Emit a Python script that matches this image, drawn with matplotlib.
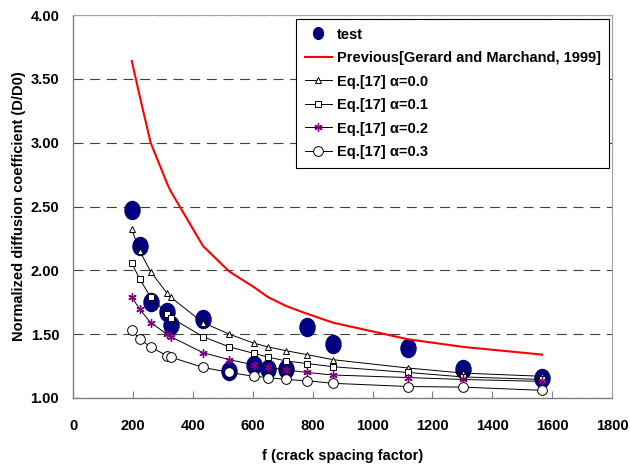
import matplotlib
matplotlib.use("Agg")
import matplotlib.pyplot as plt
from matplotlib.path import Path
from matplotlib.transforms import Affine2D

plt.rcParams["font.family"] = ["Liberation Sans", "DejaVu Sans"]
plt.rcParams["font.weight"] = "bold"

# Crack spacing factor (same f for test and model points)
f_vals = [196, 223, 259, 314, 326, 434, 522, 603, 651, 712, 781, 868, 1118, 1303, 1566]

test_vals = [2.47, 2.19, 1.75, 1.67, 1.57, 1.62, 1.21, 1.26, 1.23, 1.225, 1.56, 1.42, 1.39, 1.23, 1.155]
previous_vals = [3.64, 3.36, 3.00, 2.68, 2.62, 2.19, 1.99, 1.87, 1.79, 1.72, 1.66, 1.59, 1.46, 1.40, 1.34]
eq_a00 = [2.32, 2.15, 1.99, 1.82, 1.79, 1.59, 1.50, 1.43, 1.40, 1.37, 1.34, 1.30, 1.235, 1.195, 1.17]
eq_a01 = [2.055, 1.93, 1.79, 1.66, 1.63, 1.48, 1.40, 1.35, 1.32, 1.29, 1.27, 1.245, 1.20, 1.165, 1.145]
eq_a02 = [1.79, 1.695, 1.59, 1.50, 1.48, 1.355, 1.30, 1.26, 1.24, 1.22, 1.20, 1.18, 1.16, 1.145, 1.13]
eq_a03 = [1.53, 1.46, 1.40, 1.33, 1.32, 1.24, 1.20, 1.17, 1.16, 1.145, 1.135, 1.115, 1.09, 1.085, 1.06]

legend_labels = ["test", "Previous[Gerard and Marchand, 1999]",
                 "Eq.[17] α=0.0", "Eq.[17] α=0.1", "Eq.[17] α=0.2", "Eq.[17] α=0.3"]

x_ticks = list(range(0, 2000, 200))
y_ticks = [1.0, 1.5, 2.0, 2.5, 3.0, 3.5, 4.0]

# Slightly tall ellipse for the test marker
circ = Path.unit_circle()
ellipse = Affine2D().scale(1.0, 1.2).transform_path(circ)

fig = plt.figure(figsize=(6.3, 4.69), dpi=100)
ax = fig.add_axes([0.116, 0.1514, 0.8556, 0.8166])

ax.plot(f_vals, test_vals, linestyle="none", marker=ellipse, markersize=13,
        color="#000080", label=legend_labels[0], zorder=2)
ax.plot(f_vals, previous_vals, color="#ff0000", lw=1.5, label=legend_labels[1], zorder=3)
ax.plot(f_vals, eq_a00, color="black", lw=0.7, marker="^", markersize=5,
        markerfacecolor="white", markeredgecolor="black", markeredgewidth=0.7,
        label=legend_labels[2], zorder=4)
ax.plot(f_vals, eq_a01, color="black", lw=0.7, marker="s", markersize=4.5,
        markerfacecolor="white", markeredgecolor="black", markeredgewidth=0.7,
        label=legend_labels[3], zorder=4)
ax.plot(f_vals, eq_a02, color="black", lw=0.7, marker=(6, 2, 0), markersize=6,
        markeredgecolor="#800080", markeredgewidth=1.0,
        label=legend_labels[4], zorder=4)
ax.plot(f_vals, eq_a03, color="black", lw=0.7, marker="o", markersize=7,
        markerfacecolor="white", markeredgecolor="black", markeredgewidth=0.7,
        label=legend_labels[5], zorder=4)

ax.set_xlim(0, 1800)
ax.set_ylim(1.0, 4.0)
ax.set_xticks(x_ticks)
ax.set_yticks(y_ticks)
ax.set_yticklabels([f"{v:.2f}" for v in y_ticks])

ax.yaxis.grid(True, color="#404040", lw=0.8, linestyle=(0, (9, 6)))
ax.set_axisbelow(True)

ax.tick_params(axis="x", direction="in", length=5, width=0.8, color="#808080",
               pad=15, labelsize=10.5)
ax.tick_params(axis="y", length=0, pad=10, labelsize=10.5)

for side in ["left", "bottom"]:
    ax.spines[side].set_color("#808080")
    ax.spines[side].set_linewidth(1.0)
for side in ["top", "right"]:
    ax.spines[side].set_color("#a0a0a0")
    ax.spines[side].set_linewidth(0.8)

ax.set_xlabel("f (crack spacing factor)", fontsize=10.5, fontweight="bold", labelpad=12)
ax.set_ylabel("Normalized diffusion coefficient (D/D0)", fontsize=10.5, fontweight="bold", labelpad=3)

leg = ax.legend(loc="upper right", bbox_to_anchor=(0.995, 0.99), borderaxespad=0,
                fancybox=False, framealpha=1, edgecolor="black", fontsize=10.5,
                handlelength=1.9, handletextpad=0.3, labelspacing=0.65, borderpad=0.6)
leg.get_frame().set_linewidth(0.8)
# legend dot is drawn smaller than the plotted test points
leg.legend_handles[0].set_markersize(8.5)

fig.savefig("out.png", dpi=100)
